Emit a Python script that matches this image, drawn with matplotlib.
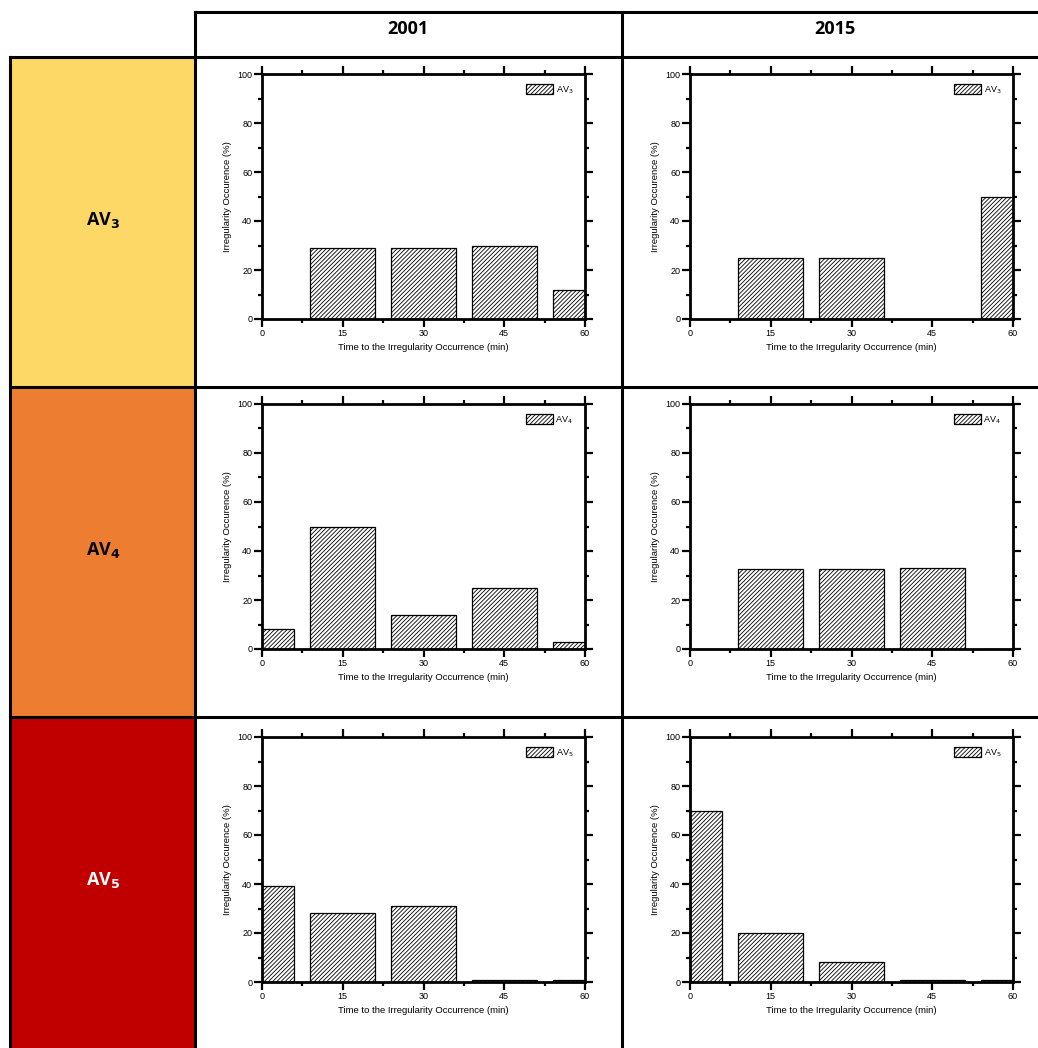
import matplotlib
matplotlib.use("Agg")
import matplotlib.pyplot as plt
from matplotlib.patches import Rectangle
from matplotlib.lines import Line2D
from matplotlib.ticker import MultipleLocator

# ---- data ----
years = ["2001", "2015"]
rows = ["3", "4", "5"]
bin_centers = [0, 15, 30, 45, 60]
x_ticks = [0, 15, 30, 45, 60]
y_ticks = [0, 20, 40, 60, 80, 100]
av3_2001 = [0, 29, 29, 30, 12]
av3_2015 = [0, 25, 25, 0, 50]
av4_2001 = [8, 50, 14, 25, 3]
av4_2015 = [0, 32.5, 32.5, 33, 0]
av5_2001 = [39, 28, 31, 1, 1]
av5_2015 = [70, 20, 8, 1, 1]
values = [[av3_2001, av3_2015], [av4_2001, av4_2015], [av5_2001, av5_2015]]
row_colors = ["#FDD866", "#ED7D31", "#C00000"]
label_colors = ["black", "black", "white"]
xlabel = "Time to the Irregularity Occurrence (min)"
ylabel = "Irregularity Occurence (%)"

W, H = 1038, 1048
plt.rcParams["font.family"] = ["Liberation Sans", "DejaVu Sans"]
plt.rcParams["hatch.linewidth"] = 0.6
fig = plt.figure(figsize=(W / 100, H / 100), dpi=100)

# background table axes (pixel coordinates)
bg = fig.add_axes([0, 0, 1, 1])
bg.set_xlim(0, W)
bg.set_ylim(H, 0)
bg.axis("off")
row_edges = [57, 387, 717, 1048]
for i, c in enumerate(row_colors):
    bg.add_patch(Rectangle((10, row_edges[i]), 185, row_edges[i + 1] - row_edges[i],
                           facecolor=c, edgecolor="none", zorder=0))
    bg.text(103, (row_edges[i] + row_edges[i + 1]) / 2 - 2,
            r"AV$_{\mathbf{%s}}$" % rows[i], color=label_colors[i],
            ha="center", va="center", fontsize=13, fontweight="bold",
            family=["Open Sans", "DejaVu Sans"], zorder=2)
lw = 2.2
bg.add_line(Line2D([195, W], [12, 12], color="black", lw=lw))
for y in [57, 387, 717]:
    bg.add_line(Line2D([10, W], [y, y], color="black", lw=lw))
for x in [195, 622]:
    bg.add_line(Line2D([x, x], [12, H], color="black", lw=lw))
bg.add_line(Line2D([10, 10], [57, H], color="black", lw=lw))
for j, yr in enumerate(years):
    bg.text([408, 835][j], 29, yr, ha="center", va="center", fontsize=13,
            fontweight="bold", family=["Open Sans", "DejaVu Sans"])

# chart axes
ax_lefts = [262, 690]
ax_tops = [74, 404, 737]
ax_w, ax_h = 323, 245
for i in range(3):
    for j in range(2):
        l = ax_lefts[j]
        t = ax_tops[i]
        ax = fig.add_axes([l / W, 1 - (t + ax_h) / H, ax_w / W, ax_h / H])
        ax.bar(bin_centers, values[i][j], width=12, facecolor="white",
               edgecolor="black", linewidth=0.9, hatch="////////",
               label=r"AV$_{%s}$" % rows[i])
        ax.set_xlim(0, 60)
        ax.set_ylim(0, 100)
        ax.set_xticks(x_ticks)
        ax.set_yticks(y_ticks)
        ax.xaxis.set_minor_locator(MultipleLocator(7.5))
        ax.yaxis.set_minor_locator(MultipleLocator(10))
        ax.tick_params(which="both", direction="out", top=True, right=True,
                       labelsize=6.5, width=1.6, pad=1.5)
        ax.tick_params(which="major", length=5.5)
        ax.tick_params(which="minor", length=3)
        for s in ax.spines.values():
            s.set_linewidth(2)
        ax.set_xlabel(xlabel, fontsize=6.8, labelpad=4)
        ax.set_ylabel(ylabel, fontsize=6.8, labelpad=4)
        leg = ax.legend(loc="upper right", frameon=False, fontsize=6.5,
                        handlelength=3.0, handleheight=1.3, handletextpad=0.3,
                        bbox_to_anchor=(0.98, 0.985), borderaxespad=0.2)

fig.savefig("out.png", dpi=100)
